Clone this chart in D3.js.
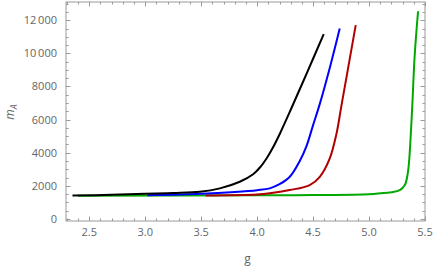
<!DOCTYPE html>
<html><head><meta charset="utf-8">
<script src="https://cdn.jsdelivr.net/npm/d3@7"></script>
<style>body{margin:0;background:#fff}svg{display:block}</style>
</head><body>
<svg id="c" width="436" height="267"></svg>
<script>
const xTicks = [2.5, 3.0, 3.5, 4.0, 4.5, 5.0, 5.5];
const yTicks = [0, 2000, 4000, 6000, 8000, 10000, 12000];
const blackG = [2.35, 2.7, 3.0, 3.25, 3.488, 3.667, 3.845, 3.964, 4.03, 4.084, 4.14, 4.203, 4.307, 4.45, 4.595];
const blackV = [1420, 1460, 1520, 1570, 1646, 1851, 2249, 2700, 3150, 3650, 4300, 5150, 6700, 8900, 11160];
const blueG = [3.02, 3.5, 3.8, 4.0, 4.113, 4.2, 4.292, 4.381, 4.441, 4.5, 4.56, 4.65, 4.738];
const blueV = [1430, 1520, 1630, 1740, 1851, 2100, 2550, 3500, 4400, 5668, 6950, 9150, 11500];
const redG = [3.54, 4.0, 4.113, 4.292, 4.47, 4.56, 4.649, 4.709, 4.754, 4.881];
const redV = [1420, 1480, 1550, 1749, 2050, 2550, 3660, 5150, 6874, 11700];
const greenG = [2.4, 4.0, 4.5, 5.0, 5.1, 5.2, 5.275, 5.32, 5.348, 5.379, 5.408, 5.438];
const greenV = [1410, 1430, 1450, 1500, 1550, 1620, 1750, 2050, 2850, 5860, 9890, 12540];

const W = 436, H = 267, m = {l: 66, r: 11, t: 2, b: 46};
const svg = d3.select('#c');
const x = d3.scaleLinear().domain([2.292, 5.5]).range([m.l, W - m.r]);
const y = d3.scaleLinear().domain([-120, 13100]).range([H - m.b, m.t]);
const gray = '#9a9a9a', txt = '#666';
const fmt = v => v >= 10000 ? d3.format(',')(v).replace(',', '\u2009') : String(v);

const minorX = d3.range(2.3, 5.501, 0.1);
const minorY = d3.range(0, 13001, 500);
const frame = svg.append('g');
frame.append('rect').attr('x', m.l).attr('y', m.t).attr('width', W - m.l - m.r).attr('height', H - m.t - m.b)
  .attr('fill', 'none').attr('stroke', gray).attr('stroke-width', 1);

function ticksX(vals, len) {
  vals.forEach(v => {
    const px = Math.round(x(v)) + 0.5;
    frame.append('line').attr('x1', px).attr('x2', px).attr('y1', H - m.b).attr('y2', H - m.b - len).attr('stroke', gray);
    frame.append('line').attr('x1', px).attr('x2', px).attr('y1', m.t).attr('y2', m.t + len).attr('stroke', gray);
  });
}
function ticksY(vals, len) {
  vals.forEach(v => {
    const py = Math.round(y(v)) + 0.5;
    frame.append('line').attr('y1', py).attr('y2', py).attr('x1', m.l).attr('x2', m.l + len).attr('stroke', gray);
    frame.append('line').attr('y1', py).attr('y2', py).attr('x1', W - m.r).attr('x2', W - m.r - len).attr('stroke', gray);
  });
}
ticksX(minorX, 2.5); ticksX(xTicks, 4.5);
ticksY(minorY, 2.5); ticksY(yTicks, 4.5);

svg.append('g').selectAll('text').data(xTicks).join('text')
  .attr('x', d => x(d)).attr('y', H - m.b + 15).attr('text-anchor', 'middle')
  .attr('font-family', 'Open Sans, sans-serif').attr('font-size', 11).attr('fill', txt)
  .text(d => d.toFixed(1));
svg.append('g').selectAll('text').data(yTicks).join('text')
  .attr('x', m.l - 9).attr('y', d => y(d) + 4).attr('text-anchor', 'end')
  .attr('font-family', 'Open Sans, sans-serif').attr('font-size', 11).attr('fill', txt)
  .text(fmt);

svg.append('text').attr('x', (m.l + W - m.r) / 2 + 2).attr('y', 263).attr('text-anchor', 'middle')
  .attr('font-family', 'Open Sans, sans-serif').attr('font-size', 12).attr('fill', txt).text('g');
const yl = svg.append('text').attr('transform', `translate(14,112) rotate(-90)`).attr('text-anchor', 'middle')
  .attr('font-family', 'Open Sans, sans-serif').attr('font-size', 12).attr('fill', txt);
yl.append('tspan').attr('font-style', 'italic').text('m');
yl.append('tspan').attr('font-style', 'italic').attr('font-size', 9).attr('dy', 3).text('A');

const line = d3.line().x(d => x(d[0])).y(d => y(d[1])).curve(d3.curveCatmullRom.alpha(0.5));
const series = [
  [greenG, greenV, '#00a800'],
  [redG, redV, '#b00000'],
  [blueG, blueV, '#0000ff'],
  [blackG, blackV, '#000000']
];
const plot = svg.append('g');
series.forEach(([g, v, c]) => {
  plot.append('path').datum(g.map((d, i) => [d, v[i]])).attr('d', line)
    .attr('fill', 'none').attr('stroke', c).attr('stroke-width', 2);
});
</script>
</body></html>
